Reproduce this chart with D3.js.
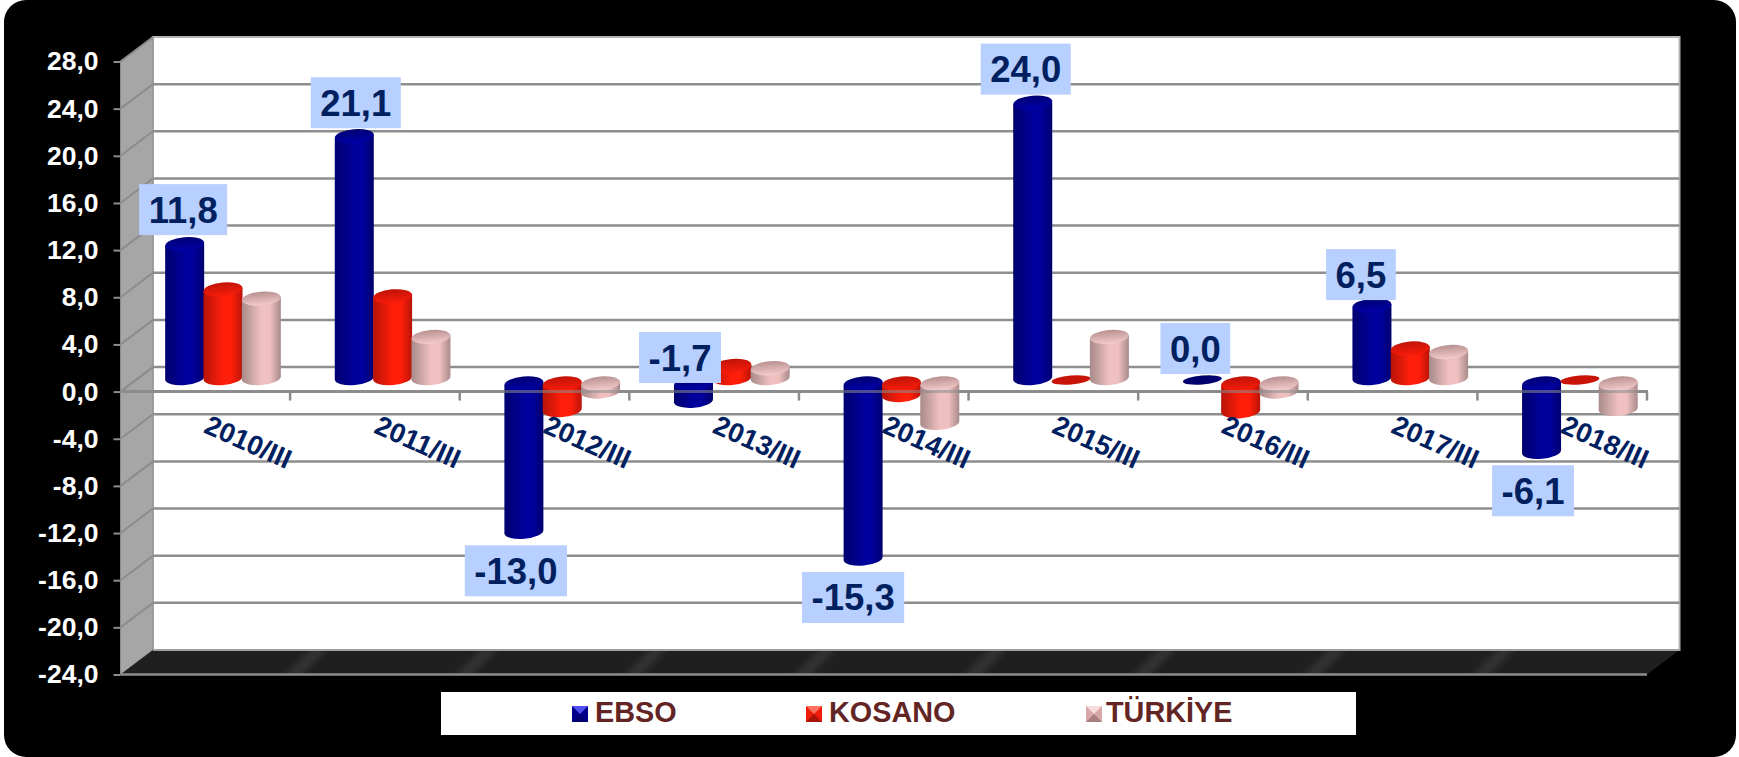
<!DOCTYPE html>
<html>
<head>
<meta charset="utf-8">
<title>EBSO KOSANO TÜRKİYE</title>
<script src="https://cdn.jsdelivr.net/npm/d3@7"></script>
<style>
    html, body { margin: 0; padding: 0; background: #fff; }
    svg { display: block; }
    text { font-family: "Liberation Sans", Arial, sans-serif; font-weight: bold; }
</style>
</head>
<body>
<div id="chart"></div>
<script>
// Chart data
const categories = ["2010/III", "2011/III", "2012/III", "2013/III", "2014/III", "2015/III", "2016/III", "2017/III", "2018/III"];
const seriesNames = ["EBSO", "KOSANO", "TÜRKİYE"];
const ebso = [11.8, 21.1, -13.0, -1.7, -15.3, 24.0, 0.0, 6.5, -6.1];
const kosano = [7.9, 7.3, -2.5, 1.3, -1.2, 0.0, -2.6, 2.8, 0.0];
const turkiye = [7.1, 3.8, -0.9, 1.1, -3.6, 3.8, -0.9, 2.5, -2.4];
const yTicks = [-24, -20, -16, -12, -8, -4, 0, 4, 8, 12, 16, 20, 24, 28];

const width = 1739, height = 757;
const comma = v => v.toFixed(1).replace(".", ",");

const svg = d3.select("#chart").append("svg")
    .attr("width", width)
    .attr("height", height);
const defs = svg.append("defs");

// Scales. The front plane is what the axis sits on, the back wall is shifted by depth
const depthX = 32.5, depthY = -24.5;
const x0 = d3.scaleBand().domain(categories).range([120.5, 1647]);
const x1 = d3.scaleBand().domain(seriesNames).range([45, 160]);
const y = d3.scaleLinear().domain([-24, 28]).range([674.5, 61.5]);
const barY = d3.scaleLinear().domain([-24, 28]).range([659.4, 56.2]);

const backLeft = x0.range()[0] + depthX, backRight = x0.range()[1] + depthX;

// Black rounded panel
svg.append("rect")
    .attr("x", 4).attr("y", 0)
    .attr("width", 1732).attr("height", 757)
    .attr("rx", 22)
    .attr("fill", "#000");

// Walls and floor
svg.append("rect")
    .attr("x", backLeft).attr("y", y(28) + depthY)
    .attr("width", backRight - backLeft).attr("height", y(-24) - y(28))
    .attr("fill", "#fff")
    .attr("stroke", "#b4b4b4")
    .attr("stroke-width", 2);

svg.append("polygon")
    .attr("points", [
        [x0.range()[0], y(28)], [backLeft, y(28) + depthY],
        [backLeft, y(-24) + depthY], [x0.range()[0], y(-24)]
    ].join(" "))
    .attr("fill", "#a6a6a6")
    .attr("stroke", "#8c8c8c");

const floorPoints = [
    [x0.range()[0], y(-24)], [backLeft, y(-24) + depthY],
    [backRight, y(-24) + depthY], [x0.range()[1], y(-24)]
].join(" ");

svg.append("polygon")
    .attr("points", floorPoints)
    .attr("fill", "#1f1f1f");

defs.append("clipPath").attr("id", "floor-clip")
    .append("polygon").attr("points", floorPoints);
defs.append("filter").attr("id", "soft")
    .append("feGaussianBlur").attr("stdDeviation", 4);

// Faint sheen on the floor at each category boundary
svg.append("g").attr("clip-path", "url(#floor-clip)")
    .selectAll("polygon")
    .data(categories.slice(0, -1))
    .enter().append("polygon")
    .attr("filter", "url(#soft)")
    .attr("points", d => {
        const bx = x0(d) + x0.bandwidth();
        return [[bx - 6, y(-24) + 4], [bx + 6, y(-24) + 4], [bx + 6 + depthX, y(-24) + depthY - 4], [bx - 6 + depthX, y(-24) + depthY - 4]].join(" ");
    })
    .attr("fill", "#3a3a3a");

// Floor edges
svg.append("line")
    .attr("x1", x0.range()[0]).attr("x2", x0.range()[1])
    .attr("y1", y(-24)).attr("y2", y(-24))
    .attr("stroke", "#8c8c8c").attr("stroke-width", 2.5);
svg.append("line")
    .attr("x1", backLeft).attr("x2", backRight)
    .attr("y1", y(-24) + depthY).attr("y2", y(-24) + depthY)
    .attr("stroke", "#a0a0a0").attr("stroke-width", 2);

// Gridlines on the back wall and the side wall
const gridTicks = yTicks.filter(d => d > -24);
svg.selectAll("line.grid")
    .data(gridTicks.filter(d => d < 28))
    .enter().append("line")
    .classed("grid", true)
    .attr("x1", backLeft).attr("x2", backRight)
    .attr("y1", d => y(d) + depthY).attr("y2", d => y(d) + depthY)
    .attr("stroke", "#8e8e8e").attr("stroke-width", 2.5);
svg.selectAll("line.side")
    .data(gridTicks)
    .enter().append("line")
    .classed("side", true)
    .attr("x1", x0.range()[0]).attr("x2", backLeft)
    .attr("y1", d => y(d)).attr("y2", d => y(d) + depthY)
    .attr("stroke", "#8c8c8c").attr("stroke-width", 2);

// Zero axis under the bars, with its ticks
function drawZeroAxis(g) {
    g.append("line")
        .attr("x1", x0.range()[0]).attr("x2", x0.range()[1] + 1)
        .attr("y1", y(0)).attr("y2", y(0))
        .attr("stroke", "#8c8c8c").attr("stroke-width", 3);
}
drawZeroAxis(svg.append("g"));
svg.selectAll("line.xtick")
    .data(categories)
    .enter().append("line")
    .classed("xtick", true)
    .attr("x1", d => x0(d) + x0.bandwidth()).attr("x2", d => x0(d) + x0.bandwidth())
    .attr("y1", y(0)).attr("y2", y(0) + 9)
    .attr("stroke", "#8c8c8c").attr("stroke-width", 2.5);

// Y axis
const yAxis = svg.append("g")
    .attr("transform", `translate(${x0.range()[0]},0)`)
    .call(d3.axisLeft(y).tickValues(yTicks).tickSize(7).tickPadding(15).tickFormat(comma));
yAxis.select(".domain").remove();
yAxis.selectAll("line").attr("stroke", "#8c8c8c").attr("stroke-width", 2);
yAxis.selectAll("text")
    .attr("fill", "#fff")
    .attr("font-size", 26.5)
    .style("font-family", '"Liberation Sans", Arial, sans-serif')
    .style("font-weight", "bold");

// Gradients for the cylinders
const seriesColors = [
    { edge: "#00006e", mid: "#00009c", topBack: "#000072", topFront: "#0000a8", flat: "#00006e" },
    { edge: "#b81408", mid: "#ff1e0a", topBack: "#c01408", topFront: "#f81c0a", flat: "#c81408" },
    { edge: "#a88a8a", mid: "#f0c0c0", topBack: "#b89090", topFront: "#f4cccc", flat: "#b89090" }
];
seriesColors.forEach((c, i) => {
    const body = defs.append("linearGradient").attr("id", `body${i}`);
    body.append("stop").attr("offset", "0%").attr("stop-color", c.edge);
    body.append("stop").attr("offset", "50%").attr("stop-color", c.mid);
    body.append("stop").attr("offset", "72%").attr("stop-color", c.mid);
    body.append("stop").attr("offset", "100%").attr("stop-color", c.edge);
    const top = defs.append("linearGradient").attr("id", `top${i}`)
        .attr("x1", 0).attr("y1", 0).attr("x2", 0).attr("y2", 1);
    top.append("stop").attr("offset", "0%").attr("stop-color", c.topBack);
    top.append("stop").attr("offset", "100%").attr("stop-color", c.topFront);
});

// Bars, drawn as tilted cylinders
const allSeries = [ebso, kosano, turkiye];
const rx = 19.5, ry = 7, tilt = -5, lean = 1.7;
const barRows = [];
categories.forEach((cat, ci) => {
    seriesNames.forEach((name, si) => {
        barRows.push({ cat, name, si, value: allSeries[si][ci] });
    });
});

const bars = svg.selectAll("g.bar")
    .data(barRows)
    .enter().append("g")
    .classed("bar", true)
    .attr("transform", d => `translate(${x0(d.cat) + x1(d.name) + x1.bandwidth() / 2},0)`);

// A bar with no height shows as a flat disc
bars.filter(d => d.value === 0).append("ellipse")
    .attr("rx", rx).attr("ry", 4.5)
    .attr("transform", `translate(0,${barY(0) - 1}) rotate(${tilt})`)
    .attr("fill", d => seriesColors[d.si].flat);

const solid = bars.filter(d => d.value !== 0);
const topOf = d => d.value > 0 ? barY(d.value) : barY(0) + 2.5;
const bottomOf = d => d.value > 0 ? barY(0) - 3 : barY(d.value);

solid.append("path")
    .attr("d", d => `M${-rx},${topOf(d) + lean}L${-rx},${bottomOf(d) + lean}` +
        `A${rx},${ry} ${tilt} 0 0 ${rx},${bottomOf(d) - lean}L${rx},${topOf(d) - lean}Z`)
    .attr("fill", d => `url(#body${d.si})`);
solid.append("ellipse")
    .attr("rx", rx).attr("ry", ry)
    .attr("transform", d => `translate(0,${topOf(d)}) rotate(${tilt})`)
    .attr("fill", d => `url(#top${d.si})`);

// Zero axis shows faintly over the bars
drawZeroAxis(svg.append("g").attr("opacity", 0.55));

// Category labels
svg.selectAll("text.cat")
    .data(categories)
    .enter().append("text")
    .classed("cat", true)
    .attr("transform", d => `translate(${x0(d) + x0.bandwidth() / 2 + 42},444) rotate(24)`)
    .attr("text-anchor", "middle")
    .attr("dominant-baseline", "middle")
    .attr("font-size", 27.5)
    .attr("fill", "#002060")
    .text(d => d);

// Value labels for EBSO, on light blue boxes
const labelShiftX = [-1.5, 1.5, -8, -13.5, -10, -7, -7, -11, -8.5];
const labelShiftY = [0, 1, 0, 9, 0, 1, 2, 3.5, 0];
const boxH = 51, boxPad = 9.5;
const labels = svg.selectAll("g.value")
    .data(categories)
    .enter().append("g")
    .classed("value", true)
    .attr("transform", (d, i) => {
        const v = ebso[i];
        const cx = x0(d) + x1(seriesNames[0]) + x1.bandwidth() / 2 + labelShiftX[i];
        // the small negative value sits above the bar, like the positive ones
        const above = v > -2;
        const cy = above ? barY(Math.max(v, 0)) - 9 - boxH / 2 + (v < 0 ? 2 : 0)
            : barY(v) + 13.5 + boxH / 2;
        return `translate(${cx},${cy + labelShiftY[i]})`;
    });
const labelBox = labels.append("rect").attr("fill", "#b7d0ff").attr("y", -boxH / 2).attr("height", boxH);
const labelText = labels.append("text")
    .attr("text-anchor", "middle")
    .attr("y", 13)
    .attr("font-size", 36.5)
    .attr("fill", "#002060")
    .text((d, i) => comma(ebso[i]));
labelText.each(function (d, i) {
    const w = this.getBBox().width + boxPad * 2;
    d3.select(labelBox.nodes()[i]).attr("x", -w / 2).attr("width", w);
});

// Legend
svg.append("rect")
    .attr("x", 441).attr("y", 692)
    .attr("width", 915).attr("height", 43)
    .attr("fill", "#fff");

const legendMarkX = [572, 806, 1086];
const legendTextX = [595, 829, 1106];
const markerShades = [
    { base: "#00008c", up: "#5050f0", down: "#000070" },
    { base: "#f01c0a", up: "#ff7060", down: "#a81408" },
    { base: "#d8a8a8", up: "#f8dcdc", down: "#a88080" }
];
const s = 16;
const legend = svg.selectAll("g.legend")
    .data(seriesNames)
    .enter().append("g")
    .classed("legend", true);
legend.append("rect")
    .attr("x", (d, i) => legendMarkX[i]).attr("y", 706)
    .attr("width", s).attr("height", s)
    .attr("fill", (d, i) => markerShades[i].base);
legend.append("polygon")
    .attr("points", (d, i) => [[legendMarkX[i], 706], [legendMarkX[i] + s, 706], [legendMarkX[i] + s / 2, 706 + s / 2]].join(" "))
    .attr("fill", (d, i) => markerShades[i].up);
legend.append("polygon")
    .attr("points", (d, i) => [[legendMarkX[i], 706 + s], [legendMarkX[i] + s, 706 + s], [legendMarkX[i] + s / 2, 706 + s / 2]].join(" "))
    .attr("fill", (d, i) => markerShades[i].down);
legend.append("text")
    .attr("x", (d, i) => legendTextX[i]).attr("y", 722)
    .attr("font-size", 28.8)
    .attr("fill", "#632523")
    .text(d => d);
</script>
</body>
</html>
